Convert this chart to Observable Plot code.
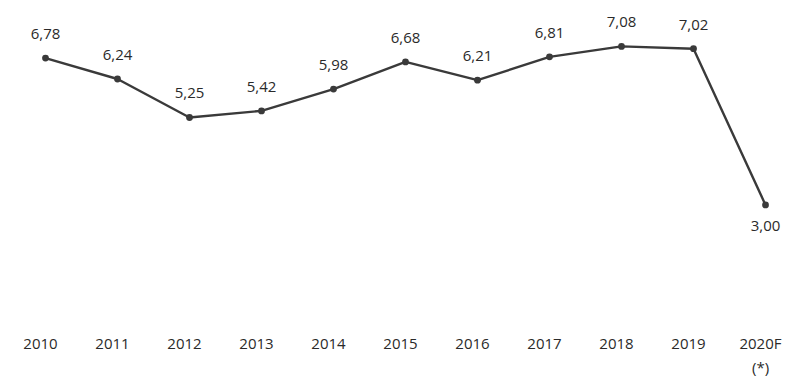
<!DOCTYPE html>
<html>
<head>
<meta charset="utf-8">
<script src="https://cdn.jsdelivr.net/npm/d3@7"></script>
<script src="https://cdn.jsdelivr.net/npm/@observablehq/plot@0.6"></script>
<style>
  html, body { margin: 0; padding: 0; background: #fff; }
  #chart svg { display: block; }
</style>
</head>
<body>
<div id="chart"></div>
<script>
const years = ["2010","2011","2012","2013","2014","2015","2016","2017","2018","2019","2020F"];
const values = [6.78, 6.24, 5.25, 5.42, 5.98, 6.68, 6.21, 6.81, 7.08, 7.02, 3.00];
const tickLabels = ["2010","2011","2012","2013","2014","2015","2016","2017","2018","2019","2020F\n(*)"];

const data = years.map((y, i) => ({year: y, value: values[i], label: values[i].toFixed(2).replace(".", ",")}));
const above = data.filter(d => d.year !== "2020F");
const below = data.filter(d => d.year === "2020F");

const chart = Plot.plot({
  width: 793,
  height: 383,
  marginLeft: 42,
  marginRight: 25,
  marginTop: 20,
  marginBottom: 83,
  style: {fontFamily: "'Open Sans', sans-serif", fontSize: "15px", color: "#2a2a2a", background: "#fff"},
  x: {type: "point", domain: years, padding: 0, label: null},
  y: {domain: [0.54, 7.746], axis: null},
  marks: [
    Plot.axisX({
      tickSize: 0,
      tickPadding: 31,
      dx: -5,
      tickFormat: (d) => tickLabels[years.indexOf(d)],
      fontSize: 15,
      lineHeight: 1.6,
      fill: "#2a2a2a",
      label: null
    }),
    Plot.line(data, {x: "year", y: "value", stroke: "#3a3a3a", strokeWidth: 2.4}),
    Plot.dot(data, {x: "year", y: "value", r: 3.4, fill: "#3a3a3a", stroke: "none"}),
    Plot.text(above, {x: "year", y: "value", text: "label", dy: -24, fontSize: 15, fill: "#2a2a2a"}),
    Plot.text(below, {x: "year", y: "value", text: "label", dy: 21, fontSize: 15, fill: "#2a2a2a"})
  ]
});
document.getElementById("chart").appendChild(chart);
</script>
</body>
</html>
